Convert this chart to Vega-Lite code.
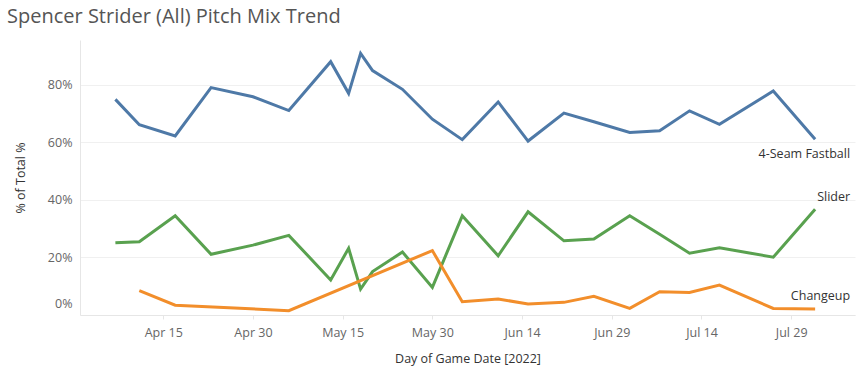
{
  "$schema": "https://vega.github.io/schema/vega-lite/v6.json",
  "width": 775,
  "height": 275,
  "autosize": {"type": "none"},
  "padding": {"left": 80, "top": 40, "right": 3, "bottom": 64},
  "background": "white",
  "title": {
    "text": "Spencer Strider (All) Pitch Mix Trend",
    "anchor": "start",
    "frame": "group",
    "dx": -73,
    "dy": 20,
    "offset": 17,
    "baseline": "alphabetic",
    "fontSize": 20,
    "font": "Open Sans",
    "fontWeight": "normal",
    "color": "#555555"
  },
  "config": {
    "view": {"stroke": null},
    "font": "Open Sans"
  },
  "data": {
    "values": [
      {"date": "2022-04-07T00:00", "pitch": "4-Seam Fastball", "pct": 0.750},
      {"date": "2022-04-11T00:00", "pitch": "4-Seam Fastball", "pct": 0.662},
      {"date": "2022-04-17T00:00", "pitch": "4-Seam Fastball", "pct": 0.623},
      {"date": "2022-04-23T00:00", "pitch": "4-Seam Fastball", "pct": 0.791},
      {"date": "2022-04-30T00:00", "pitch": "4-Seam Fastball", "pct": 0.759},
      {"date": "2022-05-06T00:00", "pitch": "4-Seam Fastball", "pct": 0.711},
      {"date": "2022-05-13T00:00", "pitch": "4-Seam Fastball", "pct": 0.881},
      {"date": "2022-05-16T00:00", "pitch": "4-Seam Fastball", "pct": 0.771},
      {"date": "2022-05-18T00:00", "pitch": "4-Seam Fastball", "pct": 0.910},
      {"date": "2022-05-20T00:00", "pitch": "4-Seam Fastball", "pct": 0.850},
      {"date": "2022-05-25T00:00", "pitch": "4-Seam Fastball", "pct": 0.785},
      {"date": "2022-05-30T00:00", "pitch": "4-Seam Fastball", "pct": 0.681},
      {"date": "2022-06-04T00:00", "pitch": "4-Seam Fastball", "pct": 0.610},
      {"date": "2022-06-10T00:00", "pitch": "4-Seam Fastball", "pct": 0.741},
      {"date": "2022-06-15T00:00", "pitch": "4-Seam Fastball", "pct": 0.605},
      {"date": "2022-06-21T00:00", "pitch": "4-Seam Fastball", "pct": 0.702},
      {"date": "2022-06-26T00:00", "pitch": "4-Seam Fastball", "pct": 0.672},
      {"date": "2022-07-02T00:00", "pitch": "4-Seam Fastball", "pct": 0.635},
      {"date": "2022-07-07T00:00", "pitch": "4-Seam Fastball", "pct": 0.641},
      {"date": "2022-07-12T00:00", "pitch": "4-Seam Fastball", "pct": 0.710},
      {"date": "2022-07-17T00:00", "pitch": "4-Seam Fastball", "pct": 0.663},
      {"date": "2022-07-26T00:00", "pitch": "4-Seam Fastball", "pct": 0.779},
      {"date": "2022-08-02T00:00", "pitch": "4-Seam Fastball", "pct": 0.611},
      {"date": "2022-04-07T00:00", "pitch": "Slider", "pct": 0.251},
      {"date": "2022-04-11T00:00", "pitch": "Slider", "pct": 0.255},
      {"date": "2022-04-17T00:00", "pitch": "Slider", "pct": 0.345},
      {"date": "2022-04-23T00:00", "pitch": "Slider", "pct": 0.211},
      {"date": "2022-04-30T00:00", "pitch": "Slider", "pct": 0.243},
      {"date": "2022-05-06T00:00", "pitch": "Slider", "pct": 0.277},
      {"date": "2022-05-13T00:00", "pitch": "Slider", "pct": 0.122},
      {"date": "2022-05-16T00:00", "pitch": "Slider", "pct": 0.232},
      {"date": "2022-05-18T00:00", "pitch": "Slider", "pct": 0.090},
      {"date": "2022-05-20T00:00", "pitch": "Slider", "pct": 0.151},
      {"date": "2022-05-25T00:00", "pitch": "Slider", "pct": 0.219},
      {"date": "2022-05-30T00:00", "pitch": "Slider", "pct": 0.096},
      {"date": "2022-06-04T00:00", "pitch": "Slider", "pct": 0.345},
      {"date": "2022-06-10T00:00", "pitch": "Slider", "pct": 0.206},
      {"date": "2022-06-15T00:00", "pitch": "Slider", "pct": 0.359},
      {"date": "2022-06-21T00:00", "pitch": "Slider", "pct": 0.258},
      {"date": "2022-06-26T00:00", "pitch": "Slider", "pct": 0.264},
      {"date": "2022-07-02T00:00", "pitch": "Slider", "pct": 0.345},
      {"date": "2022-07-07T00:00", "pitch": "Slider", "pct": 0.281},
      {"date": "2022-07-12T00:00", "pitch": "Slider", "pct": 0.215},
      {"date": "2022-07-17T00:00", "pitch": "Slider", "pct": 0.234},
      {"date": "2022-07-26T00:00", "pitch": "Slider", "pct": 0.201},
      {"date": "2022-08-02T00:00", "pitch": "Slider", "pct": 0.368},
      {"date": "2022-04-11T00:00", "pitch": "Changeup", "pct": 0.085},
      {"date": "2022-04-17T00:00", "pitch": "Changeup", "pct": 0.034},
      {"date": "2022-05-06T00:00", "pitch": "Changeup", "pct": 0.015},
      {"date": "2022-05-30T00:00", "pitch": "Changeup", "pct": 0.224},
      {"date": "2022-06-04T00:00", "pitch": "Changeup", "pct": 0.046},
      {"date": "2022-06-10T00:00", "pitch": "Changeup", "pct": 0.056},
      {"date": "2022-06-15T00:00", "pitch": "Changeup", "pct": 0.038},
      {"date": "2022-06-21T00:00", "pitch": "Changeup", "pct": 0.044},
      {"date": "2022-06-26T00:00", "pitch": "Changeup", "pct": 0.065},
      {"date": "2022-07-02T00:00", "pitch": "Changeup", "pct": 0.023},
      {"date": "2022-07-07T00:00", "pitch": "Changeup", "pct": 0.081},
      {"date": "2022-07-12T00:00", "pitch": "Changeup", "pct": 0.078},
      {"date": "2022-07-17T00:00", "pitch": "Changeup", "pct": 0.104},
      {"date": "2022-07-26T00:00", "pitch": "Changeup", "pct": 0.023},
      {"date": "2022-08-02T00:00", "pitch": "Changeup", "pct": 0.021}
    ]
  },
  "encoding": {
    "x": {
      "field": "date",
      "type": "temporal",
      "title": "Day of Game Date [2022]",
      "scale": {
        "domain": [
          {"year": 2022, "month": 4, "date": 1, "hours": 2},
          {"year": 2022, "month": 8, "date": 8, "hours": 16}
        ]
      },
      "axis": {
        "values": [
          {"year": 2022, "month": 4, "date": 15},
          {"year": 2022, "month": 4, "date": 30},
          {"year": 2022, "month": 5, "date": 15},
          {"year": 2022, "month": 5, "date": 30},
          {"year": 2022, "month": 6, "date": 14},
          {"year": 2022, "month": 6, "date": 29},
          {"year": 2022, "month": 7, "date": 14},
          {"year": 2022, "month": 7, "date": 29}
        ],
        "format": "%b %d",
        "grid": false,
        "domainColor": "#e6e6e6",
        "tickColor": "#e6e6e6",
        "tickSize": 4,
        "labelPadding": 7,
        "labelFontSize": 12.5,
        "labelColor": "#666666",
        "labelFont": "Open Sans",
        "titleFont": "Open Sans",
        "titleFontSize": 12.5,
        "titleFontWeight": "normal",
        "titleColor": "#333333",
        "titlePadding": 14
      }
    },
    "y": {
      "field": "pct",
      "type": "quantitative",
      "title": "% of Total %",
      "scale": {"domain": [0, 0.9565], "nice": false},
      "axis": {
        "values": [0, 0.2, 0.4, 0.6, 0.8],
        "format": ".0%",
        "ticks": false,
        "labelPadding": 8,
        "labelFlush": true,
        "labelFlushOffset": -5,
        "domainColor": "#e6e6e6",
        "gridColor": "#f0f0f0",
        "labelFontSize": 12.5,
        "labelColor": "#666666",
        "labelFont": "Open Sans",
        "titleFont": "Open Sans",
        "titleFontSize": 12.5,
        "titleFontWeight": "normal",
        "titleColor": "#333333",
        "titlePadding": 20
      }
    },
    "color": {
      "field": "pitch",
      "type": "nominal",
      "scale": {
        "domain": ["4-Seam Fastball", "Slider", "Changeup"],
        "range": ["#4e79a7", "#59a14f", "#f28e2b"]
      },
      "legend": null
    }
  },
  "layer": [
    {
      "mark": {"type": "line", "strokeWidth": 3, "strokeJoin": "miter", "strokeCap": "butt"}
    },
    {
      "transform": [
        {"joinaggregate": [{"op": "max", "field": "date", "as": "maxdate"}], "groupby": ["pitch"]},
        {"filter": "time(datum.date) === time(datum.maxdate) && datum.pitch === '4-Seam Fastball'"}
      ],
      "mark": {"type": "text", "align": "right", "baseline": "middle", "dx": 35, "dy": 15, "fontSize": 12.5, "font": "Open Sans", "color": "#333333"},
      "encoding": {"text": {"field": "pitch"}, "color": {"value": "#333333"}}
    },
    {
      "transform": [
        {"joinaggregate": [{"op": "max", "field": "date", "as": "maxdate"}], "groupby": ["pitch"]},
        {"filter": "time(datum.date) === time(datum.maxdate) && datum.pitch !== '4-Seam Fastball'"}
      ],
      "mark": {"type": "text", "align": "right", "baseline": "middle", "dx": 35, "dy": -12.5, "fontSize": 12.5, "font": "Open Sans", "color": "#333333"},
      "encoding": {"text": {"field": "pitch"}, "color": {"value": "#333333"}}
    }
  ]
}
